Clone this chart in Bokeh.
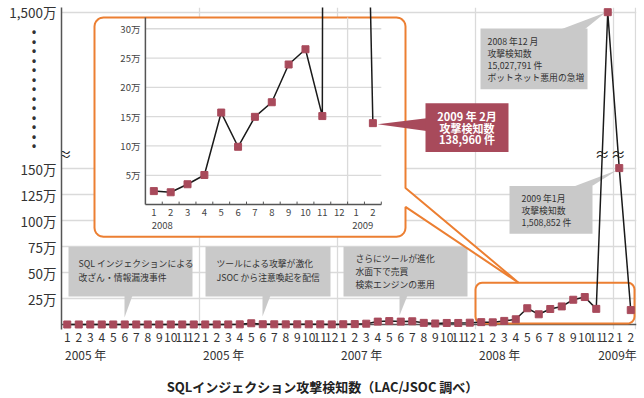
import numpy as np
from bokeh.plotting import figure
from bokeh.models import Range1d, FixedTicker, LinearAxis
from bokeh.embed import file_html
from bokeh.resources import INLINE
from bokeh.core.properties import value

FONT = "Noto Sans CJK JP"

# ---------------- data ----------------
month_numbers = list(range(1, 13)) * 4 + [1, 2]
year_names = ["2005 年", "2005 年", "2007 年", "2008 年", "2009年"]
year_first_month = [0, 12, 24, 36, 48]
attack_counts = [
    # 2005
    300, 400, 350, 500, 450, 600, 500, 400, 450, 550, 500, 600,
    # 2006
    700, 800, 900, 1500, 12000, 2500, 2000, 1500, 1800, 2000, 1500, 1200,
    # 2007
    2500, 4000, 8000, 28000, 33000, 28000, 31000, 16000, 10000, 15000, 15000, 17500,
    # 2008
    23000, 21000, 34700, 50500, 157000, 98600, 149700, 174600, 239000, 265000, 151000, 15027791,
    # 2009
    1508852, 138960,
]
y_tick_values = [250000, 500000, 750000, 1000000, 1250000, 1500000, 15000000]
y_tick_labels = ["25万", "50万", "75万", "100万", "125万", "150万", "1,500万"]

inset_first = 36
inset_tick_values = [50000, 100000, 150000, 200000, 250000, 300000]
inset_tick_labels = ["5万", "10万", "15万", "20万", "25万", "30万"]
inset_year_names = ["2008", "2009"]

gray_callout_lines = [
    ["SQL インジェクションによる", "改ざん・情報漏洩事件"],
    ["ツールによる攻撃が激化", "JSOC から注意喚起を配信"],
    ["さらにツールが進化", "水面下で売買", "検索エンジンの悪用"],
    ["2008 年12 月", "攻撃検知数", "15,027,791 件", "ボットネット悪用の急増"],
    ["2009 年1月", "攻撃検知数", "1,508,852 件"],
]
red_callout_lines = ["2009 年 2月", "攻撃検知数", "138,960 件"]
x_title = "SQLインジェクション攻撃検知数（LAC/JSOC 調べ）"

# ---------------- styling constants ----------------
MAROON = "#a84a5b"
ORANGE = "#ec7f32"
GRAYBOX = "#c9c9c9"
GRID = "#dadada"
AXIS = "#555555"
TEXT = "#333333"

# broken y axis: display units (1 unit = 1 px above the x axis)
LOW_MAX, LOW_PX = 1500000.0, 156.0
BREAK_V, TOP_V, TOP_PX = 1600000.0, 15000000.0, 313.0


def yd(v):
    if v <= BREAK_V:
        return v * LOW_PX / LOW_MAX
    b = BREAK_V * LOW_PX / LOW_MAX
    return b + (v - BREAK_V) * (TOP_PX - b) / (TOP_V - BREAK_V)


# layout helpers: page pixel positions -> main data coordinates
def mx(px):
    return (px - 61.0) / 11.5 - 0.5


def my(py):
    return 325.0 - py


x_idx = list(range(len(attack_counts)))
y_disp = [yd(v) for v in attack_counts]
y_ticks_disp = [int(round(yd(v))) for v in y_tick_values]

p = figure(width=644, height=398, x_range=Range1d(-0.5, 49.5), y_range=Range1d(-5, TOP_PX + 5),
           output_backend="svg", toolbar_location=None,
           min_border_left=61, min_border_right=8, min_border_top=7, min_border_bottom=68)
p.outline_line_color = None
p.background_fill_color = "white"
p.border_fill_color = "white"

# grid
p.xgrid.ticker = FixedTicker(ticks=[11.5, 23.5, 35.5, 47.5, 49.45])
p.ygrid.ticker = FixedTicker(ticks=y_ticks_disp)
p.grid.grid_line_color = GRID
p.grid.grid_line_width = 1.3

# x axis (month numbers)
month_axis = p.xaxis[0]
month_axis.ticker = FixedTicker(ticks=x_idx)
month_axis.major_label_overrides = {i: str(m) for i, m in zip(x_idx, month_numbers)}
month_axis.axis_line_color = None
month_axis.major_tick_line_color = None
month_axis.minor_tick_line_color = None
month_axis.major_tick_out = 0
month_axis.major_tick_in = 0
month_axis.major_label_standoff = 3
month_axis.major_label_text_font = FONT
month_axis.major_label_text_font_size = "12px"
month_axis.major_label_text_color = TEXT

# year labels as a second axis
year_ticks = [min(round(f + 1.6, 2), 47.85) for f in year_first_month]
year_axis = LinearAxis(ticker=FixedTicker(ticks=year_ticks),
                       major_label_overrides={t: n for t, n in zip(year_ticks, year_names)},
                       axis_line_color=None, major_tick_line_color=None, minor_tick_line_color=None,
                       major_tick_out=0, major_tick_in=0, major_label_standoff=1,
                       major_label_text_font=FONT, major_label_text_font_size="12px",
                       major_label_text_color=TEXT)
p.add_layout(year_axis, "below")

# chart title as a third axis
title_pos = round(mx(322), 2)
title_axis = LinearAxis(ticker=FixedTicker(ticks=[title_pos]),
                        major_label_overrides={title_pos: x_title},
                        axis_line_color=None, major_tick_line_color=None, minor_tick_line_color=None,
                        major_tick_out=0, major_tick_in=0, major_label_standoff=11,
                        major_label_text_font=FONT, major_label_text_font_size="13px",
                        major_label_text_font_style="bold", major_label_text_color="#222222")
p.add_layout(title_axis, "below")

# y axis (with the column of dots for the omitted range)
dot_ticks = [my(30 + 9.5 * k) for k in range(13)]
y_overrides = {t: lab for t, lab in zip(y_ticks_disp, y_tick_labels)}
for t in dot_ticks:
    y_overrides[t] = "•\u2003\u2002"
p.yaxis.ticker = FixedTicker(ticks=y_ticks_disp + dot_ticks)
p.yaxis.major_label_overrides = y_overrides
p.yaxis.axis_line_color = AXIS
p.yaxis.axis_line_width = 1.5
p.yaxis.major_tick_line_color = None
p.yaxis.minor_tick_line_color = None
p.yaxis.major_tick_out = 0
p.yaxis.major_tick_in = 0
p.yaxis.major_label_standoff = 5
p.yaxis.major_label_text_font = FONT
p.yaxis.major_label_text_font_size = "13.5px"
p.yaxis.major_label_text_color = TEXT

# spine at zero
p.segment(x0=[-0.5], y0=[0], x1=[49.5], y1=[0], line_color=AXIS, line_width=1.5)


def rrect_pts(x0, y0, x1, y1, r, n=6):
    pts = []
    for cx, cy, a0, a1 in [(x1 - r, y0 + r, -90, 0), (x1 - r, y1 - r, 0, 90),
                           (x0 + r, y1 - r, 90, 180), (x0 + r, y0 + r, 180, 270)]:
        for t in np.radians(np.linspace(a0, a1, n)):
            pts.append((cx + r * np.cos(t), cy + r * np.sin(t)))
    return pts


def to_data(pts):
    return [mx(a) for a, b in pts], [my(b) for a, b in pts]


# gray callouts (box + pointer), page-pixel layout
gray_geom = [
    dict(box=(68, 247, 192, 297), ptr=[(124, 296), (132, 296), (124, 318)], tx=78, ty=[264, 278]),
    dict(box=(205, 247, 330, 297), ptr=[(262, 296), (270, 296), (262, 317)], tx=216, ty=[264, 278]),
    dict(box=(343, 247, 467, 297), ptr=[(399, 296), (407, 296), (399, 316)], tx=355, ty=[259, 272, 285]),
    dict(box=(480, 28, 587, 89), ptr=[(560, 29), (584, 29), (605, 12)], tx=487, ty=[41, 53, 65, 77]),
    dict(box=(509, 186, 592, 234), ptr=[(572, 187), (590, 187), (617, 170)], tx=521, ty=[199, 211, 223]),
]
xs_all, ys_all = [], []
for g in gray_geom:
    x0, y0, x1, y1 = g["box"]
    bx, by = to_data([(x0, y0), (x1, y0), (x1, y1), (x0, y1)])
    xs_all.append(bx); ys_all.append(by)
    px_, py_ = to_data(g["ptr"])
    xs_all.append(px_); ys_all.append(py_)
p.patches(xs_all, ys_all, fill_color=GRAYBOX, line_color=None)

# small orange box around 2008-2009 region
sx, sy = to_data(rrect_pts(475, 283, 634, 324, 7))
p.patch(sx, sy, fill_alpha=0, line_color=ORANGE, line_width=2)

# main series
p.line(x_idx, y_disp, line_color="#1a1a1a", line_width=1.5)
p.scatter(x_idx, y_disp, marker="square", size=7, fill_color=MAROON, line_color=MAROON)

# inset box with tail
box_pts = rrect_pts(94, 17, 405, 237, 9)
n = 6
inset_pts = box_pts[:n] + [(405, 188), (518, 283), (405, 207)] + box_pts[n:]
ix, iy = to_data(inset_pts)
p.patch(ix, iy, fill_color="white", line_color=ORANGE, line_width=2)

# inset chart through a sub-coordinate system
IX0, IX1 = 144.9, 380.8
IY0, IY30 = 204.7, 28.3
ins = p.subplot(
    x_source=Range1d(-0.5, 13.5), y_source=Range1d(0, 300000),
    x_target=Range1d(mx(IX0), mx(IX1)), y_target=Range1d(my(IY0), my(IY30)),
)
ipx_x = (IX1 - IX0) / 14.0
ival_per_px = 300000.0 / (IY0 - IY30)
itop = (IY0 - 17) * ival_per_px
nin = len(attack_counts) - inset_first
ins_x = list(range(nin))
ins_y = attack_counts[inset_first:]
ins_months = [str(m) for m in month_numbers[inset_first:]]

ins.segment(x0=[-0.5] * len(inset_tick_values), y0=inset_tick_values,
            x1=[13.5] * len(inset_tick_values), y1=inset_tick_values,
            line_color=GRID, line_width=1.3)
ins.segment(x0=[11.5], y0=[0], x1=[11.5], y1=[itop], line_color=GRID, line_width=1.3)
ins.segment(x0=[-0.5, -0.5], y0=[0, 0], x1=[13.5, -0.5], y1=[0, itop], line_color=AXIS, line_width=1.5)
ins.segment(x0=[k + 0.5 for k in ins_x], y0=[0] * nin, x1=[k + 0.5 for k in ins_x],
            y1=[3 * ival_per_px] * nin, line_color=AXIS, line_width=1)
ins.line(ins_x, ins_y, line_color="#1a1a1a", line_width=1.5)
ins.scatter(ins_x, ins_y, marker="square", size=7, fill_color=MAROON, line_color=MAROON)
ins.text(x=[-0.5 - 5 / ipx_x] * len(inset_tick_values), y=inset_tick_values, text=inset_tick_labels,
         text_align="right", text_baseline="middle", text_font=value(FONT),
         text_font_size="9.5px", text_color="#444444")
ins.text(x=ins_x, y=[-(213 - IY0) * ival_per_px] * nin, text=ins_months,
         text_align="center", text_baseline="middle", text_font=value(FONT),
         text_font_size="9.5px", text_color="#444444")
ins.text(x=[0.5, 12.4], y=[-(225.5 - IY0) * ival_per_px] * 2, text=inset_year_names,
         text_align="center", text_baseline="middle", text_font=value(FONT),
         text_font_size="9.5px", text_color="#444444")

# maroon callout for Feb 2009
wx, wy = to_data([(377, 124), (426, 118), (426, 131)])
bx, by = to_data([(425, 103), (508, 103), (508, 152), (425, 152)])
p.patches([wx, bx], [wy, by], fill_color=MAROON, line_color=None)
p.text(x=[mx(466.5)] * 3, y=[my(116), my(127.5), my(139)], text=red_callout_lines,
       text_align="center", text_baseline="middle", text_font=value(FONT),
       text_font_size="11px", text_font_style="bold", text_color="white")

# gray callout texts
tx, ty, tt = [], [], []
for g, lines in zip(gray_geom, gray_callout_lines):
    for yy, s in zip(g["ty"], lines):
        tx.append(mx(g["tx"])); ty.append(my(yy)); tt.append(s)
p.text(x=tx, y=ty, text=tt, text_align="left", text_baseline="middle",
       text_font=value(FONT), text_font_size="8.8px", text_color=TEXT)

# axis break marks (on the y axis and where the line crosses the break)
brk_y = my(153)
brk_x = [mx(64)]
for i in range(len(y_disp) - 1):
    a, b = y_disp[i], y_disp[i + 1]
    if (a - brk_y) * (b - brk_y) < 0:
        brk_x.append(i + (brk_y - a) / (b - a))
p.text(x=brk_x, y=[brk_y] * len(brk_x), text=["≈"] * len(brk_x), text_align="center",
       text_baseline="middle", text_font=value(FONT), text_font_size="15px", text_color="#222222")

open("out.html", "w").write(file_html(p, INLINE))
